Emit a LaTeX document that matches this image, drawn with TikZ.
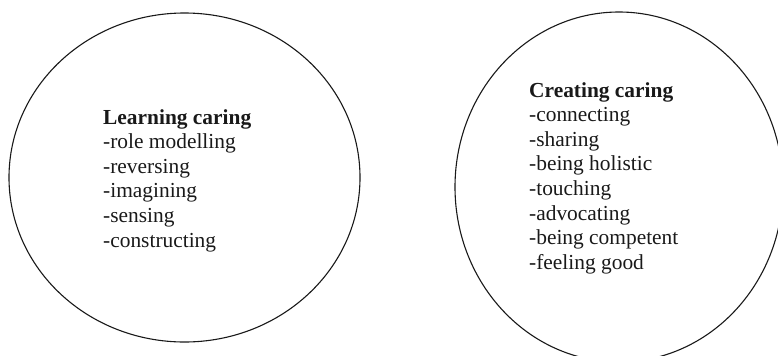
\documentclass[tikz,border=0pt]{standalone}
\usepackage{fontspec}
\setmainfont{Liberation Serif}
\usetikzlibrary{shapes.geometric}

\begin{document}
\begin{tikzpicture}[x=1bp, y=-1bp,
      ring/.style={ellipse, draw=black!90, line width=1.1bp, inner sep=0pt, outer sep=0pt},
      lst/.style={align=left, inner sep=0pt, anchor=base west, text=black!90,
        font=\fontsize{21.4bp}{24.6bp}\selectfont}]
      \useasboundingbox (0,0) rectangle (778,355);
      \clip (0,0) rectangle (778,355);
      % the two circles
      \node[ring, minimum width=351bp, minimum height=329bp] (learn) at (184.5,177.5) {};
      \node[ring, minimum width=328bp, minimum height=350bp] (create) at (619,187) {};
      % their lists (placed by the baseline of the last line)
      \node[lst] (learnlist) at (103,247) {\textbf{Learning caring}\\-role modelling\\-reversing\\-imagining\\-sensing\\-constructing};
      \node[lst] (createlist) at (529,269.2) {\textbf{Creating caring}\\-connecting\\-sharing\\-being holistic\\-touching\\-advocating\\-being competent\\-feeling good};
    \end{tikzpicture}
\end{document}
